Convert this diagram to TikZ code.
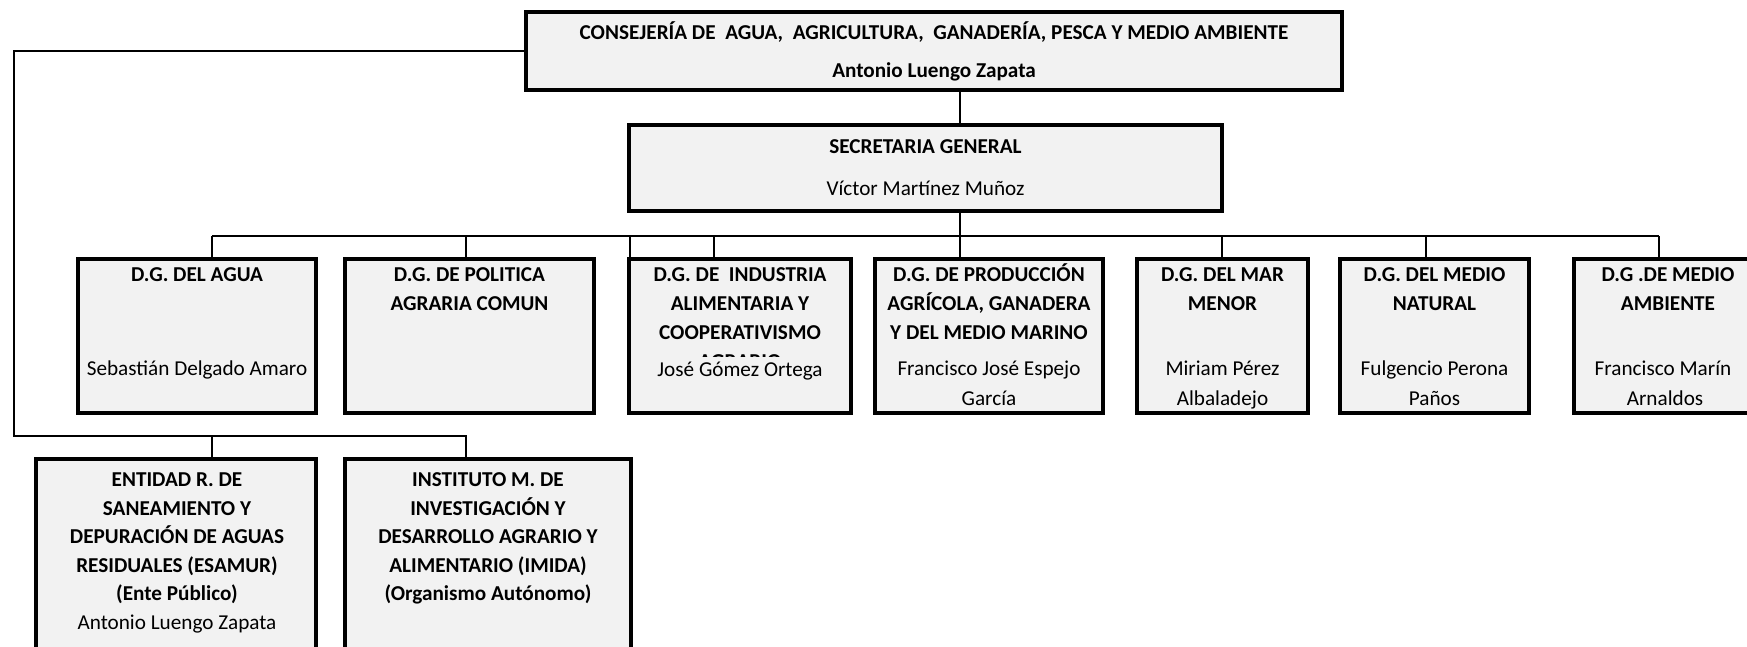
\documentclass[tikz,border=0pt]{standalone}
\usepackage{fontspec}
\setmainfont{Carlito}
\definecolor{boxgray}{HTML}{F2F2F2}
\newcommand\myfs{\fontsize{21.2}{25}\selectfont}
\begin{document}
\begin{tikzpicture}[x=1pt,y=-1pt,
  box/.style={draw=black, line width=3.8pt, fill=boxgray, inner sep=0pt, outer sep=0pt},
  conn/.style={draw=black, line width=2pt},
  tb/.style={anchor=base, inner sep=0pt, font=\myfs\bfseries},
  tn/.style={anchor=base, inner sep=0pt, font=\myfs}]
\useasboundingbox (0,0) rectangle (1747,646);
\clip (0,0) rectangle (1747,646);

\coordinate (lc1) at (14,51);
\coordinate (lc2) at (14,436);
\coordinate (lc3) at (466,436);
\coordinate (le) at (212,436);
\coordinate (busL) at (212,236);
\coordinate (busR) at (1659,236);

% boxes
\node[box, minimum width=816pt, minimum height=78pt] (top) at (934,51) {};
\node[box, minimum width=593pt, minimum height=86pt] (sg) at (925.5,168) {};
\node[box, minimum width=238pt, minimum height=154pt] (agua) at (197,336) {};
\node[box, minimum width=249pt, minimum height=154pt] (pol) at (469.5,336) {};
\node[box, minimum width=222pt, minimum height=154pt] (ind) at (740,336) {};
\node[box, minimum width=228pt, minimum height=154pt] (prod) at (989,336) {};
\node[box, minimum width=171pt, minimum height=154pt] (mar) at (1222.5,336) {};
\node[box, minimum width=189pt, minimum height=154pt] (nat) at (1434.5,336) {};
\node[box, minimum width=189pt, minimum height=154pt] (amb) at (1668.5,336) {};
\node[box, minimum width=280pt, minimum height=261pt] (esa) at (176,589.5) {};
\node[box, minimum width=286pt, minimum height=261pt] (imi) at (488,589.5) {};

% connectors
\draw[conn] (top.west) -- (lc1) -- (lc2) -- (lc3) -- (lc3 |- imi.north);
\draw[conn] (le) -- (le |- esa.north);
\draw[conn] (960,0 |- top.south) -- (960,0 |- sg.north);
\draw[conn] (960,0 |- sg.south) -- (960,0 |- prod.north);
\draw[conn] (busL) -- (busR);
\draw[conn] (busL) -- (busL |- agua.north);
\draw[conn] (466,236) -- (466,236 |- pol.north);
\draw[conn] (630,236) -- (630,236 |- ind.north);
\draw[conn] (714,236) -- (714,236 |- ind.north);
\draw[conn] (1222,236) -- (1222,236 |- mar.north);
\draw[conn] (1426,236) -- (1426,236 |- nat.north);
\draw[conn] (busR) -- (busR |- amb.north);

% texts
\node[tb] (t1) at (934,39) {CONSEJERÍA DE\ \ AGUA,\ \ AGRICULTURA,\ \ GANADERÍA, PESCA Y MEDIO AMBIENTE};
\node[tb] (t2) at (934,77) {Antonio Luengo Zapata};
\node[tb] (s1) at (925.5,153) {SECRETARIA GENERAL};
\node[tn] (s2) at (925.5,195) {Víctor Martínez Muñoz};

\node[tb] (a1) at (197,281) {D.G. DEL AGUA};
\node[tn] (a2) at (197,375) {Sebastián Delgado Amaro};

\node[tb] (p1) at (469.5,281) {D.G. DE POLITICA};
\node[tb] (p2) at (469.5,310) {AGRARIA COMUN};

\node[tb] (i1) at (740,281) {D.G. DE\ \ INDUSTRIA};
\node[tb] (i2) at (740,310) {ALIMENTARIA Y};
\node[tb] (i3) at (740,339) {COOPERATIVISMO};
\begin{scope}
\clip (630,345) rectangle (850,356.3);
\node[tb] (i4) at (740,368) {AGRARIO};
\end{scope}
\node[tn] (i5) at (740,376) {José Gómez Ortega};

\node[tb] (r1) at (989,281) {D.G. DE PRODUCCIÓN};
\node[tb] (r2) at (989,310) {AGRÍCOLA, GANADERA};
\node[tb] (r3) at (989,339) {Y DEL MEDIO MARINO};
\node[tn] (r4) at (989,375) {Francisco José Espejo};
\node[tn] (r5) at (989,405) {García};

\node[tb] (m1) at (1222.5,281) {D.G. DEL MAR};
\node[tb] (m2) at (1222.5,310) {MENOR};
\node[tn] (m3) at (1222.5,375) {Miriam Pérez};
\node[tn] (m4) at (1222.5,405) {Albaladejo};

\node[tb] (n1) at (1434.5,281) {D.G. DEL MEDIO};
\node[tb] (n2) at (1434.5,310) {NATURAL};
\node[tn] (n3) at (1434.5,375) {Fulgencio Perona};
\node[tn] (n4) at (1434.5,405) {Paños};

\node[tb] (b1) at (1668,281) {D.G .DE MEDIO};
\node[tb] (b2) at (1668,310) {AMBIENTE};
\node[tn] (b3) at (1663,375) {Francisco Marín};
\node[tn] (b4) at (1665,405) {Arnaldos};

\node[tb] (e1) at (177,486) {ENTIDAD R. DE};
\node[tb] (e2) at (177,515) {SANEAMIENTO Y};
\node[tb] (e3) at (177,543) {DEPURACIÓN DE AGUAS};
\node[tb] (e4) at (177,572) {RESIDUALES (ESAMUR)};
\node[tb] (e5) at (177,600) {(Ente Público)};
\node[tn] (e6) at (177,629) {Antonio Luengo Zapata};

\node[tb] (f1) at (488,486) {INSTITUTO M. DE};
\node[tb] (f2) at (488,515) {INVESTIGACIÓN Y};
\node[tb] (f3) at (488,543) {DESARROLLO AGRARIO Y};
\node[tb] (f4) at (488,572) {ALIMENTARIO (IMIDA)};
\node[tb] (f5) at (488,600) {(Organismo Autónomo)};
\end{tikzpicture}
\end{document}
